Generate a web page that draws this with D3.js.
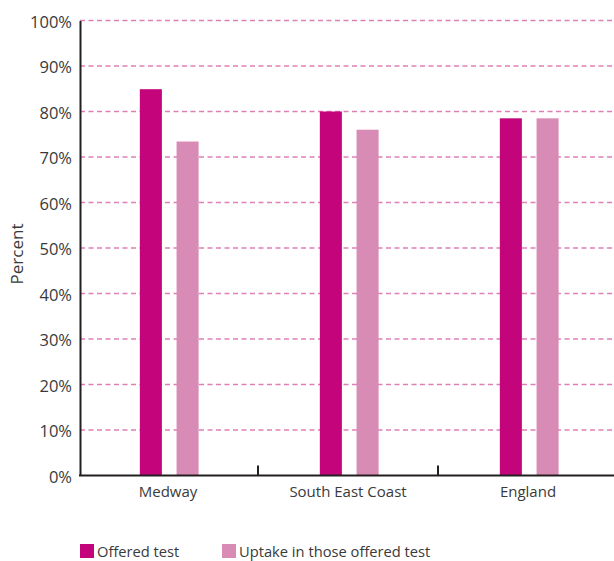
<!DOCTYPE html>
<html>
<head>
<meta charset="utf-8">
<script src="https://cdn.jsdelivr.net/npm/d3@7"></script>
<style>
  html, body { margin: 0; padding: 0; background: #fff; }
  svg text { font-family: "Open Sans", "Noto Sans", sans-serif; fill: #3a3a3a; }
</style>
</head>
<body>
<svg id="chart" width="614" height="561"></svg>
<script>
// Data
const categories = ["Medway", "South East Coast", "England"];
const seriesNames = ["Offered test", "Uptake in those offered test"];
const offered = [84.9, 80.0, 78.5];
const uptake = [73.4, 76.0, 78.5];
const yTicks = [0, 10, 20, 30, 40, 50, 60, 70, 80, 90, 100];
const colors = ["#c3047b", "#d88bb4"];

const svg = d3.select("#chart");
const W = 614, H = 561;
const axisX = 80;
const plotTop = 20.5, plotBottom = 475.5;

const x = d3.scaleBand().domain(categories).range([78, 618]).padding(0);
const xInner = d3.scaleBand().domain(seriesNames).range([0, x.bandwidth()])
  .paddingInner(0.4).paddingOuter(1.65).align(0.51);
const y = d3.scaleLinear().domain([0, 100]).range([plotBottom, plotTop]);

// Dashed gridlines
svg.append("g")
  .selectAll("line")
  .data(yTicks.filter(d => d > 0))
  .join("line")
  .attr("x1", axisX)
  .attr("x2", W)
  .attr("y1", d => y(d))
  .attr("y2", d => y(d))
  .attr("stroke", "#df7fb7")
  .attr("stroke-width", 1.3)
  .attr("stroke-dasharray", "5,3.5");

// Bars
const rows = categories.map((c, i) => ({ cat: c, vals: [offered[i], uptake[i]] }));
const groups = svg.append("g")
  .selectAll("g")
  .data(rows)
  .join("g")
  .attr("transform", d => `translate(${x(d.cat)},0)`);

groups.selectAll("rect")
  .data(d => d.vals.map((v, j) => ({ name: seriesNames[j], v, j })))
  .join("rect")
  .attr("x", d => xInner(d.name))
  .attr("width", xInner.bandwidth())
  .attr("y", d => y(d.v))
  .attr("height", d => plotBottom - y(d.v))
  .attr("fill", d => colors[d.j]);

// Y axis
const yAxis = svg.append("g")
  .attr("transform", `translate(${axisX},0)`)
  .call(d3.axisLeft(y).tickValues(yTicks).tickFormat(d => d + "%").tickSize(0).tickPadding(8));
yAxis.select(".domain").attr("stroke", "#231f20").attr("stroke-width", 2);
yAxis.selectAll("text").style("font-size", "16.5px").attr("fill", "#3a3a3a").attr("dy", "0.4em");

// X axis
const xAxis = svg.append("g")
  .attr("transform", `translate(0,${plotBottom})`)
  .call(d3.axisBottom(x).tickSize(0).tickPadding(11));
xAxis.select(".domain").attr("stroke", "#231f20").attr("stroke-width", 2)
  .attr("d", `M${axisX - 1},0H${W}`);
xAxis.selectAll("text").style("font-size", "15px").attr("fill", "#3a3a3a");

// Category separators on the x axis
svg.append("g")
  .selectAll("line")
  .data(categories.slice(1))
  .join("line")
  .attr("x1", d => x(d))
  .attr("x2", d => x(d))
  .attr("y1", plotBottom)
  .attr("y2", plotBottom - 10)
  .attr("stroke", "#231f20")
  .attr("stroke-width", 2);

// Y axis title
svg.append("text")
  .attr("transform", "translate(23,254) rotate(-90)")
  .attr("text-anchor", "middle")
  .style("font-size", "17px")
  .text("Percent");

// Legend
const legendX = [80, 222];
const legend = svg.append("g")
  .selectAll("g")
  .data(seriesNames)
  .join("g")
  .attr("transform", (d, i) => `translate(${legendX[i]},544)`);
legend.append("rect")
  .attr("width", 14).attr("height", 14)
  .attr("fill", (d, i) => colors[i]);
legend.append("text")
  .attr("x", 17).attr("y", 13)
  .style("font-size", "14.7px")
  .text(d => d);
</script>
</body>
</html>
